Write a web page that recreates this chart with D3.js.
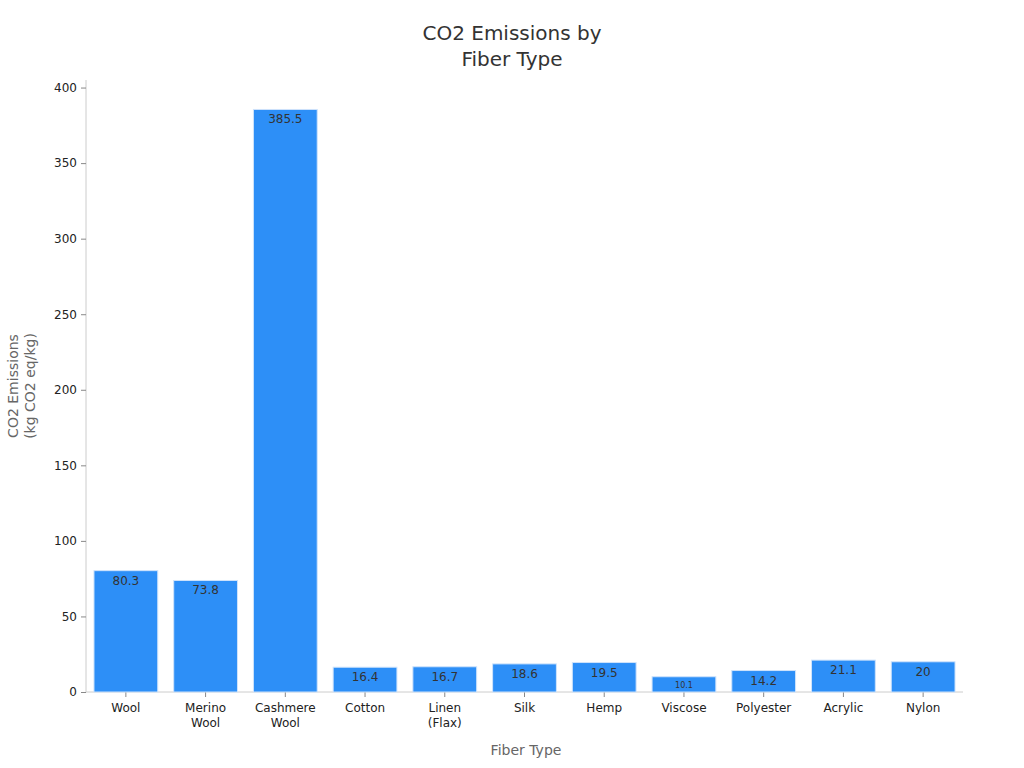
<!DOCTYPE html>
<html><head><meta charset="utf-8">
<script src="https://cdn.jsdelivr.net/npm/d3@7"></script>
<style>body{margin:0;background:#fff;font-family:"DejaVu Sans",sans-serif;}</style>
</head><body>
<svg id="chart" width="1024" height="768"></svg>
<script>
const fibers = ["Wool", "Merino\nWool", "Cashmere\nWool", "Cotton", "Linen\n(Flax)", "Silk", "Hemp", "Viscose", "Polyester", "Acrylic", "Nylon"];
const emissions = [80.3, 73.8, 385.5, 16.4, 16.7, 18.6, 19.5, 10.1, 14.2, 21.1, 20];
const yTicks = [0, 50, 100, 150, 200, 250, 300, 350, 400];

const svg = d3.select("#chart");
const m = {left: 86, right: 963, top: 80, bottom: 692};

const x = d3.scaleBand().domain(fibers).range([m.left, m.right]).paddingInner(0.2).paddingOuter(0.1);
const y = d3.scaleLinear().domain([0, 405]).range([m.bottom, m.top]);

// Title
svg.append("text").attr("x", 512).attr("y", 40).attr("text-anchor", "middle")
  .attr("font-size", 20).attr("fill", "#333").text("CO2 Emissions by");
svg.append("text").attr("x", 512).attr("y", 66).attr("text-anchor", "middle")
  .attr("font-size", 20).attr("fill", "#333").text("Fiber Type");

// Axes
const yAxis = svg.append("g").attr("transform", `translate(${m.left},0)`)
  .call(d3.axisLeft(y).tickValues(yTicks).tickSize(5).tickPadding(4));
yAxis.selectAll("text").attr("font-size", 12).attr("fill", "#222").attr("font-family", "DejaVu Sans");
yAxis.selectAll("line").attr("stroke", "#888");
yAxis.select(".domain").attr("stroke", "#ccc").attr("d", `M0,${m.top}V${m.bottom}`);

const xAxis = svg.append("g").attr("transform", `translate(0,${m.bottom})`)
  .call(d3.axisBottom(x).tickSize(5).tickFormat(""));
xAxis.selectAll("line").attr("stroke", "#888");
xAxis.select(".domain").attr("stroke", "#ccc").attr("d", `M${m.left},0H${m.right}`);
xAxis.selectAll(".tick").each(function(d) {
  const t = d3.select(this).append("text").attr("y", 20).attr("text-anchor", "middle")
    .attr("font-size", 12).attr("fill", "#222").attr("font-family", "DejaVu Sans");
  d.split("\n").forEach((s, i) => t.append("tspan").attr("x", 0).attr("dy", i ? 15 : 0).text(s));
});

// Bars
svg.selectAll("rect.bar").data(fibers).join("rect").attr("class", "bar")
  .attr("x", d => x(d)).attr("width", x.bandwidth())
  .attr("y", (d, i) => y(emissions[i])).attr("height", (d, i) => y(0) - y(emissions[i]))
  .attr("fill", "#2d8ff7").attr("stroke", "#cfe3fb").attr("stroke-width", 1);

svg.selectAll("text.val").data(fibers).join("text").attr("class", "val")
  .attr("x", d => x(d) + x.bandwidth() / 2)
  .attr("y", (d, i) => y(emissions[i]) + (emissions[i] < 12 ? 11 : 14))
  .attr("text-anchor", "middle")
  .attr("font-size", (d, i) => emissions[i] < 12 ? 8 : 12)
  .attr("fill", "#333")
  .text((d, i) => emissions[i]);

// Axis labels
svg.append("text").attr("x", 526).attr("y", 755).attr("text-anchor", "middle")
  .attr("font-size", 14).attr("fill", "#666").text("Fiber Type");
const yl = svg.append("text").attr("transform", "translate(18,386) rotate(-90)")
  .attr("text-anchor", "middle").attr("font-size", 14).attr("fill", "#666");
yl.append("tspan").attr("x", 0).attr("dy", 0).text("CO2 Emissions");
yl.append("tspan").attr("x", 0).attr("dy", 17).text("(kg CO2 eq/kg)");
</script>
</body></html>
